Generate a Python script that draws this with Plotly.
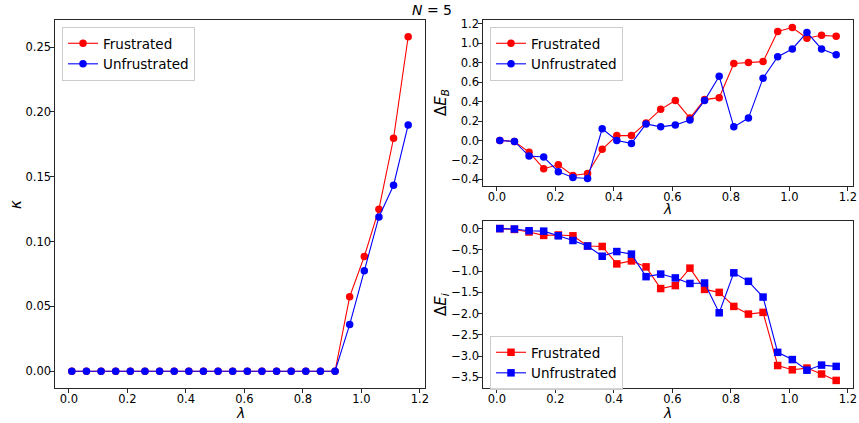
import plotly.graph_objects as go

lam = [0.01, 0.06, 0.11, 0.16, 0.21, 0.26, 0.31, 0.36, 0.41, 0.46, 0.51, 0.56,
       0.61, 0.66, 0.71, 0.76, 0.81, 0.86, 0.91, 0.96, 1.01, 1.06, 1.11, 1.16]

kappa_frus = [0]*19 + [0.0575, 0.0886, 0.125, 0.1797, 0.258]
kappa_unfrus = [0]*19 + [0.036, 0.0775, 0.119, 0.1435, 0.190]

dEB_frus = [0.0, -0.01, -0.12, -0.29, -0.25, -0.36, -0.34, -0.09, 0.05, 0.05, 0.18, 0.32,
            0.41, 0.23, 0.42, 0.44, 0.79, 0.80, 0.81, 1.12, 1.16, 1.05, 1.08, 1.07]
dEB_unfrus = [0.0, -0.01, -0.16, -0.17, -0.32, -0.38, -0.39, 0.12, 0.0, -0.03, 0.17, 0.14,
              0.16, 0.21, 0.41, 0.66, 0.14, 0.23, 0.64, 0.86, 0.94, 1.11, 0.94, 0.88]

dEi_frus = [0.0, -0.02, -0.08, -0.16, -0.15, -0.17, -0.41, -0.42, -0.83, -0.76, -0.90, -1.41,
            -1.34, -0.93, -1.43, -1.50, -1.83, -2.01, -1.97, -3.22, -3.32, -3.28, -3.42, -3.57]
dEi_unfrus = [0.0, -0.01, -0.05, -0.06, -0.17, -0.28, -0.41, -0.65, -0.54, -0.60, -1.13, -1.07,
              -1.16, -1.29, -1.28, -1.98, -1.04, -1.24, -1.61, -2.91, -3.08, -3.33, -3.21, -3.24]

x_ticks = [0.0, 0.2, 0.4, 0.6, 0.8, 1.0, 1.2]
kappa_ticks = [0.00, 0.05, 0.10, 0.15, 0.20, 0.25]
dEB_ticks = [-0.4, -0.2, 0.0, 0.2, 0.4, 0.6, 0.8, 1.0, 1.2]
dEi_ticks = [0.0, -0.5, -1.0, -1.5, -2.0, -2.5, -3.0, -3.5]

RED = "#ff0000"
BLUE = "#0000ff"
FONT = "DejaVu Sans"
W, H = 859, 423
ML, MR, MT, MB = 55, 6, 20, 35
PW, PH = W - ML - MR, H - MT - MB

def px(x):
    return (x - ML) / PW

def py(y):
    return 1 - (y - MT) / PH

fig = go.Figure()

def add(x, y, color, name, xa, ya, legend, symbol):
    fig.add_trace(go.Scatter(
        x=x, y=y, mode="lines+markers", name=name,
        line=dict(color=color, width=1.1),
        marker=dict(color=color, size=7.5, symbol=symbol),
        xaxis=xa, yaxis=ya, legend=legend))

add(lam, kappa_frus, RED, "Frustrated", "x", "y", "legend", "circle")
add(lam, kappa_unfrus, BLUE, "Unfrustrated", "x", "y", "legend", "circle")
add(lam, dEB_frus, RED, "Frustrated", "x2", "y2", "legend2", "circle")
add(lam, dEB_unfrus, BLUE, "Unfrustrated", "x2", "y2", "legend2", "circle")
add(lam, dEi_frus, RED, "Frustrated", "x3", "y3", "legend3", "square")
add(lam, dEi_unfrus, BLUE, "Unfrustrated", "x3", "y3", "legend3", "square")

def rng(vals):
    lo, hi = min(vals), max(vals)
    m = (hi - lo) * 0.05
    return [lo - m, hi + m]

xr = rng(lam)
axis_common = dict(showgrid=False, zeroline=False, showline=True, mirror=True,
                   linecolor="#262626", linewidth=1.2, ticks="outside", ticklen=3.5,
                   tickcolor="#262626", automargin=False,
                   tickfont=dict(family=FONT, size=11.5, color="black"))
xcommon = dict(axis_common, ticklabelstandoff=-3)
ycommon = dict(axis_common, ticklabelstandoff=-3)

fig.update_layout(
    width=W, height=H,
    margin=dict(l=ML, r=MR, t=MT, b=MB),
    paper_bgcolor="white", plot_bgcolor="white",
    font=dict(family=FONT, color="black"),
    xaxis=dict(domain=[px(55), px(425)], range=xr, tickvals=x_ticks, tickformat=".1f",
               anchor="y", **xcommon),
    yaxis=dict(domain=[py(388), py(20)], range=rng(kappa_frus + kappa_unfrus),
               tickvals=kappa_ticks, tickformat=".2f", anchor="x", **ycommon),
    xaxis2=dict(domain=[px(483), px(853)], range=xr, tickvals=x_ticks, tickformat=".1f",
                anchor="y2", **xcommon),
    yaxis2=dict(domain=[py(186), py(20)], range=rng(dEB_frus + dEB_unfrus),
                tickvals=dEB_ticks, tickformat=".1f", anchor="x2", **ycommon),
    xaxis3=dict(domain=[px(483), px(853)], range=xr, tickvals=x_ticks, tickformat=".1f",
                anchor="y3", **xcommon),
    yaxis3=dict(domain=[py(388), py(221)], range=rng(dEi_frus + dEi_unfrus),
                tickvals=dEi_ticks, tickformat=".1f", anchor="x3", **ycommon),
)

leg_common = dict(bgcolor="rgba(255,255,255,0.8)", bordercolor="#cccccc", borderwidth=1,
                  font=dict(family=FONT, size=13.5, color="black"), xanchor="left",
                  yanchor="top", tracegroupgap=0, itemwidth=30)
fig.update_layout(
    legend=dict(x=px(62), y=py(27), **leg_common),
    legend2=dict(x=px(490), y=py(27), **leg_common),
    legend3=dict(x=px(490), y=py(336), **leg_common),
)

ann = []
def label(text, x, y, rot=0, size=15):
    ann.append(dict(text=text, x=px(x), y=py(y), xref="paper", yref="paper",
                    showarrow=False, textangle=rot,
                    font=dict(family=FONT, size=size, color="black"),
                    xanchor="center", yanchor="middle"))

label("<i>N</i> = 5", 432, 10, size=14)
label("<i>λ</i>", 240, 413, size=14)
label("<i>λ</i>", 667, 209, size=14)
label("<i>λ</i>", 667, 413, size=14)
label("<i>κ</i>", 16, 205, rot=-90)
label("Δ<i>E</i><sub><i>B</i></sub>", 441, 103, rot=-90)
label("Δ<i>E</i><sub><i>i</i></sub>", 441, 305, rot=-90)
fig.update_layout(annotations=ann)

fig.write_html("out.html", config={"displayModeBar": False},
               post_script="document.body.style.margin='0';document.body.style.padding='0';")
